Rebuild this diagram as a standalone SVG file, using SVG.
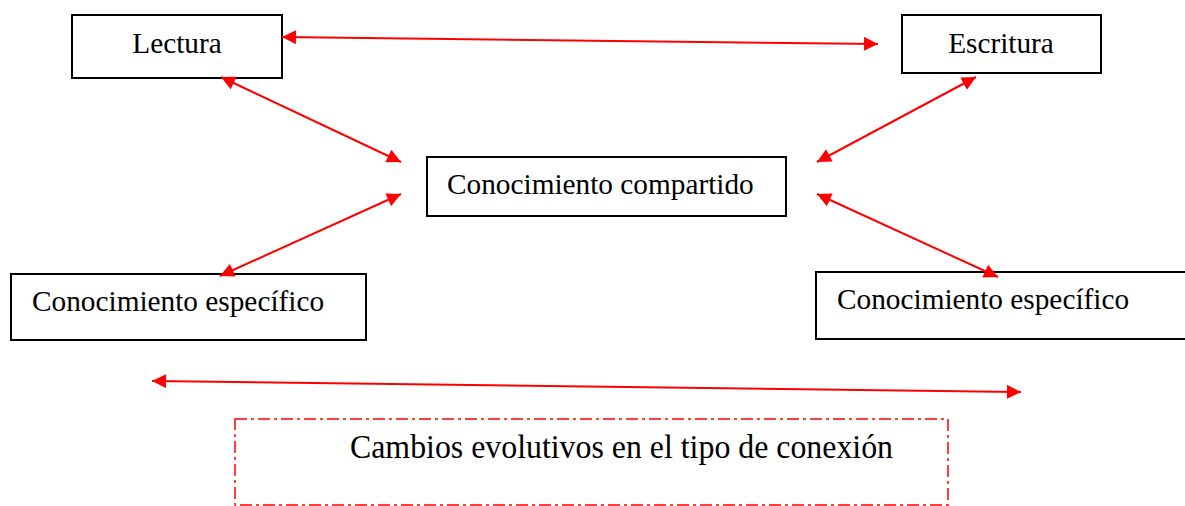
<svg xmlns="http://www.w3.org/2000/svg" width="1185" height="506" viewBox="0 0 1185 506">
<style>
.box{fill:#fff;stroke:#000;stroke-width:2}
.lbl{font-family:"Liberation Serif","Times New Roman",serif;font-size:29.3px;fill:#000}
.conn{stroke:#ff0000;stroke-width:2;fill:none;marker-start:url(#ah);marker-end:url(#ah)}
.dash{fill:none;stroke:#ff0000;stroke-width:1.5;stroke-dasharray:12 4 3 4}
</style>
<defs>
<marker id="ah" viewBox="0 0 10 10" refX="10" refY="5" markerWidth="7.5" markerHeight="7" markerUnits="strokeWidth" orient="auto-start-reverse">
<path d="M0,0 L10,5 L0,10 z" fill="#ff0000"/>
</marker>
</defs>
<rect width="1185" height="506" fill="#fff"/>
<g id="lectura">
<rect class="box" x="72" y="15" width="210" height="63"/>
<text class="lbl" x="177" y="53" text-anchor="middle">Lectura</text>
</g>
<g id="escritura">
<rect class="box" x="902" y="15" width="199" height="58"/>
<text class="lbl" x="1001" y="53" text-anchor="middle">Escritura</text>
</g>
<g id="compartido">
<rect class="box" x="427" y="157" width="359" height="59"/>
<text class="lbl" x="447" y="194">Conocimiento compartido</text>
</g>
<g id="especifico-izq">
<rect class="box" x="11" y="274" width="355" height="66"/>
<text class="lbl" x="32" y="311">Conocimiento específico</text>
</g>
<g id="especifico-der">
<rect class="box" x="816" y="272" width="375" height="67"/>
<text class="lbl" x="837" y="309">Conocimiento específico</text>
</g>
<g id="cambios">
<rect class="dash" x="235" y="419" width="713" height="86"/>
<text x="350" y="458" font-family="'Liberation Serif','Times New Roman',serif" font-size="33" textLength="543" lengthAdjust="spacingAndGlyphs" fill="#000">Cambios evolutivos en el tipo de conexión</text>
</g>
<g id="connectors">
<line class="conn" x1="282" y1="37" x2="878" y2="44"/>
<line class="conn" x1="221" y1="77" x2="401" y2="162"/>
<line class="conn" x1="976" y1="77" x2="817" y2="162"/>
<line class="conn" x1="401" y1="194" x2="220" y2="276"/>
<line class="conn" x1="817" y1="194" x2="998" y2="277"/>
<line class="conn" x1="152" y1="381" x2="1021" y2="392"/>
</g>
</svg>
